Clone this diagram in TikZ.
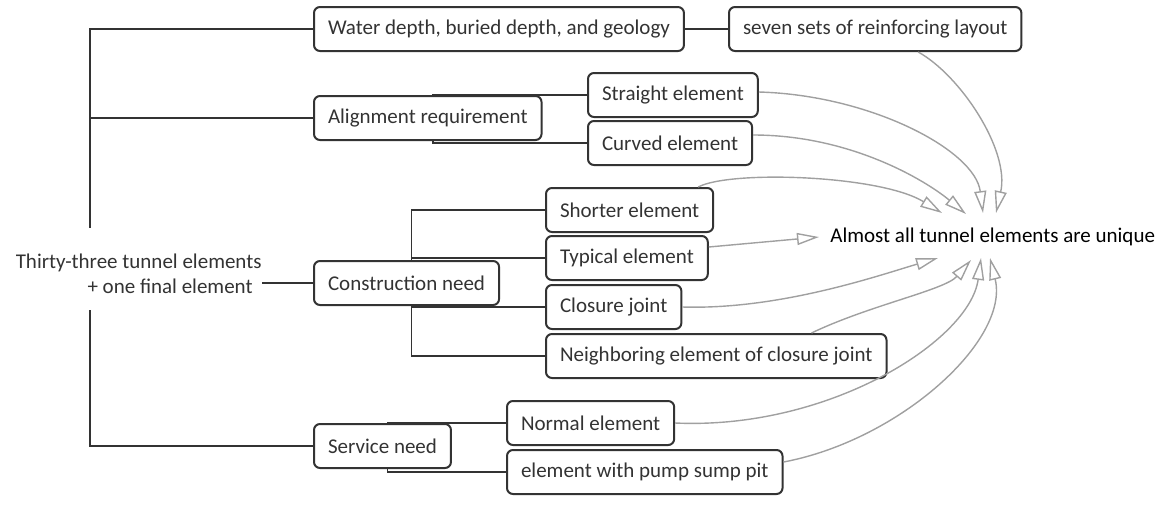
\documentclass[tikz,border=0pt]{standalone}
\usepackage{fontspec}
\setmainfont{Carlito}
\usetikzlibrary{arrows.meta,backgrounds}
\definecolor{linegray}{HTML}{333333}
\definecolor{arrowgray}{HTML}{A0A0A0}
\tikzset{
  box/.style={draw=linegray, line width=1pt, rounded corners=3pt, fill=white,
    text=linegray, minimum height=22pt, inner xsep=7pt, anchor=west},
  link/.style={draw=linegray, line width=0.9pt},
  flow/.style={draw=arrowgray, line width=0.7pt,
    -{Triangle[open, length=11pt, width=6pt]}}
}
\begin{document}
\begin{tikzpicture}[x=0.5pt, y=0.5pt, font=\fontsize{10.5}{12.5}\selectfont]
    \useasboundingbox (0,0) rectangle (1161,-526);
    \node[box] (water) at (313,-29) {Water depth, buried depth, and geology};
    \node[box] (seven) at (728,-29) {seven sets of reinforcing layout};
    \node[box] (straight) at (587,-95) {Straight element};
    \node[box] (align) at (313,-118) {Alignment requirement};
    \node[box] (curved) at (587,-143) {Curved element};
    \node[box] (shorter) at (545,-210) {Shorter element};
    \node[box] (typical) at (545,-258) {Typical element};
    \node[box] (construction) at (313,-283) {Construction need};
    \node[box] (closure) at (545,-307) {Closure joint};
    \node[box] (neighbor) at (545,-356) {Neighboring element of closure joint};
    \node[box] (normal) at (506,-423) {Normal element};
    \node[box] (service) at (313,-446) {Service need};
    \node[box] (pump) at (506,-472) {element with pump sump pit};
    \node[anchor=east, align=right, inner sep=0pt, text=linegray] (root) at (262,-274)
        {Thirty-three tunnel elements\\+ one final element\hspace*{4.5pt}};
    \node[anchor=west, inner sep=0pt, text=black] (unique) at (830,-237)
        {Almost all tunnel elements are unique};
    \coordinate (ttop) at (90,-228);
    \coordinate (tbot) at (90,-310);
    \coordinate (ajoin) at ([xshift=2.5pt]align.center);
    \coordinate (cjoin) at ([xshift=2.5pt]construction.center);
    \coordinate (sjoin) at ([xshift=2.5pt]service.center);
    \coordinate (t1) at (942,-213);
    \coordinate (t2) at (966,-214);
    \coordinate (t3) at (983,-213);
    \coordinate (t4) at (996,-213);
    \coordinate (t5) at ([xshift=-5.5pt]unique.west);
    \coordinate (b1) at (938,-258);
    \coordinate (b2) at (971,-260);
    \coordinate (b3) at (981,-258);
    \coordinate (b4) at (990,-258);
    \begin{scope}[on background layer]
        \draw[link] (water) -- (seven);
        \draw[link] (water.west) -| (ttop);
        \draw[link] (align.west) -- (align.west -| ttop);
        \draw[link] (service.west) -| (tbot);
        \draw[link] (construction.west -| root.east) -- (construction.west);
        \draw[link] (ajoin) |- (straight.west);
        \draw[link] (ajoin) |- (curved.west);
        \draw[link] (shorter.west) -| (cjoin) |- (neighbor.west);
        \draw[link] (typical.west) -- (typical.west -| cjoin);
        \draw[link] (closure.west) -- (closure.west -| cjoin);
        \draw[link] (normal.west) -| (sjoin) |- (pump.west);
    \end{scope}
    \draw[flow] ([xshift=21.5pt]seven.south) .. controls (960,-75) and (1010,-150) .. (t4);
    \draw[flow] ([yshift=1.5pt]straight.east) .. controls (870,-95) and (975,-150) .. (t3);
    \draw[flow] ([yshift=4pt]curved.east) .. controls (850,-135) and (925,-180) .. (t2);
    \draw[flow] ([xshift=-8pt]shorter.north east) .. controls (730,-170) and (880,-175) .. (t1);
    \draw[flow] ([yshift=5.5pt]typical.east) -- (t5);
    \draw[flow] (closure.east) .. controls (780,-310) and (880,-275) .. (b1);
    \draw[flow] ([xshift=-38pt]neighbor.north east) .. controls (870,-305) and (945,-290) .. (b2);
    \draw[flow] (normal.east) .. controls (830,-430) and (970,-340) .. (b3);
    \draw[flow] ([yshift=5pt]pump.east) .. controls (900,-440) and (1010,-340) .. (b4);
\end{tikzpicture}
\end{document}
